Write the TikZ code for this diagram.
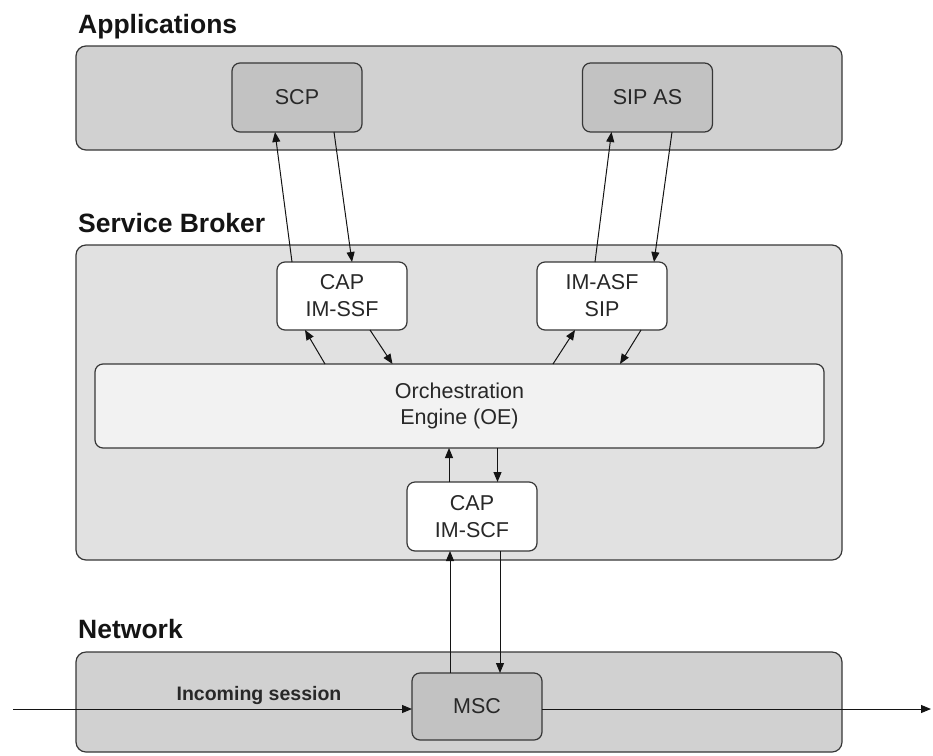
\documentclass[tikz,border=0pt]{standalone}
\usepackage{fontspec}
\setmainfont{Liberation Sans}
\usetikzlibrary{arrows.meta,calc}

\definecolor{edge}{RGB}{55,55,55}
\definecolor{layerfill}{RGB}{209,209,209}
\definecolor{innerfill}{RGB}{194,194,194}
\definecolor{brokerfill}{RGB}{225,225,225}
\definecolor{oefill}{RGB}{242,242,242}
\definecolor{inktext}{RGB}{40,40,40}

\tikzset{
  layer/.style={draw=edge, line width=1.2pt, fill=layerfill, rounded corners=10pt,
    inner sep=0pt, outer sep=0pt},
  module/.style={draw=edge, line width=1.2pt, rounded corners=8pt, inner sep=0pt,
    outer sep=0pt, minimum width=130pt, minimum height=68pt, align=center,
    text=inktext, font=\fontsize{21.5}{27}\selectfont},
  appmod/.style={module, fill=innerfill},
  brokermod/.style={module, fill=white},
  heading/.style={anchor=base west, inner sep=0pt, text=black!92,
    font=\fontsize{26.5}{30}\selectfont\bfseries},
  arr/.style={draw=black!92, line width=1pt, -{Triangle[length=10pt,width=8pt]}},
}

\begin{document}
\begin{tikzpicture}[x=1pt,y=-1pt]
\useasboundingbox (0,0) rectangle (933,755);

% ---- layers ----
\node[heading] (hApp) at (78,33) {Applications};
\node[layer, minimum width=766pt, minimum height=104pt] (apps) at (459,98) {};

\node[heading] (hSB) at (78,232) {Service Broker};
\node[layer, fill=brokerfill, minimum width=766pt, minimum height=315pt] (broker) at (459,402.5) {};

\node[heading] (hNet) at (78,638) {Network};
\node[layer, minimum width=766pt, minimum height=100pt] (net) at (459,702) {};

% ---- application servers ----
\node[appmod, minimum height=69pt] (scp) at (297,97.5) {SCP};
\node[appmod, minimum height=69pt] (sipas) at (647.5,97.5) {SIP AS};

% ---- broker internals ----
\node[brokermod] (ssf) at (342,296) {CAP\\IM-SSF};
\node[brokermod] (asf) at (602,296) {IM-ASF\\SIP};
\node[module, fill=oefill, minimum width=729pt, minimum height=84pt,
  font=\fontsize{21.5}{26.5}\selectfont] (oe) at (459.5,406)
  {Orchestration\\Engine (OE)};
\node[brokermod, minimum height=69pt] (scf) at (472,516.5) {CAP\\IM-SCF};

% ---- network ----
\node[appmod, minimum height=67pt] (msc) at (477,706.5) {MSC};

\coordinate (sessIn) at (13,709);
\coordinate (sessOut) at (931,709);

% ---- signalling ----
\draw[arr] ($(ssf.north)+(-50,0)$) -- ($(scp.south)+(-22,0)$);
\draw[arr] ($(scp.south)+(37,0)$) -- ($(ssf.north)+(10,0)$);
\draw[arr] ($(asf.north)+(-7,0)$) -- ($(sipas.south)+(-36,0)$);
\draw[arr] ($(sipas.south)+(24.5,0)$) -- ($(asf.north)+(52,0)$);

\draw[arr] ($(oe.north)+(-134.5,0)$) -- ($(ssf.south)+(-37,0)$);
\draw[arr] ($(ssf.south)+(28,0)$) -- ($(oe.north)+(-67,0)$);
\draw[arr] ($(oe.north)+(93.5,0)$) -- ($(asf.south)+(-27,0)$);
\draw[arr] ($(asf.south)+(39,0)$) -- ($(oe.north)+(160.5,0)$);

\draw[arr] ($(scf.north)+(-23,0)$) -- ($(oe.south)+(-10.5,0)$);
\draw[arr] ($(oe.south)+(38,0)$) -- ($(scf.north)+(25.5,0)$);

\draw[arr] ($(msc.north)+(-27,0)$) -- ($(scf.south)+(-22,0)$);
\draw[arr] ($(scf.south)+(28,0)$) -- ($(msc.north)+(23,0)$);

% ---- session path ----
\draw[arr] (sessIn) -- (sessIn -| msc.west);
\draw[arr] (sessOut -| msc.east) -- (sessOut);
\node[anchor=base, inner sep=0pt, text=inktext, font=\fontsize{19.5}{22}\selectfont\bfseries]
  (inLbl) at (259,700) {Incoming session};
\end{tikzpicture}
\end{document}
